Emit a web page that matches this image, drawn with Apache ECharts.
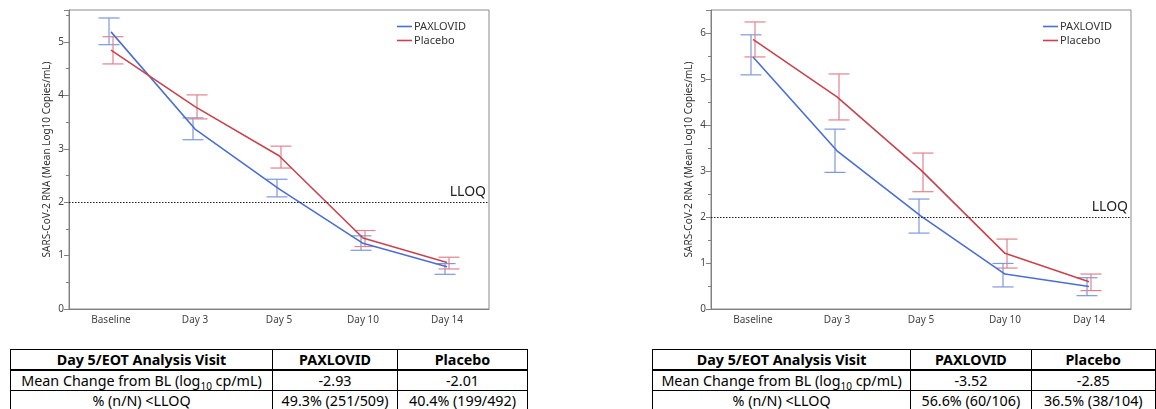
<!DOCTYPE html>
<html>
<head>
<meta charset="utf-8">
<script src="https://cdn.jsdelivr.net/npm/echarts@6/dist/echarts.min.js"></script>
<style>
    body { margin: 0; background: #fff; overflow: hidden; width: 1156px; height: 409px; position: relative; }
    #chart { position: absolute; left: 0; top: 0; width: 1156px; height: 340px; }
    table.visit { position: absolute; top: 349px; border-collapse: collapse; font-family: "Noto Sans", sans-serif; font-size: 14.3px; color: #000; table-layout: fixed; }
    table.visit td { border: 1px solid #000; text-align: center; padding: 0; height: 19px; line-height: 18px; white-space: nowrap; overflow: hidden; }
    table.visit tr.head td { font-weight: bold; border-bottom: 2px solid #000; }
    table.visit sub { font-size: 10px; line-height: 0; }
</style>
</head>
<body>
<div id="chart"></div>
<div id="tables"></div>
<script>
var days = ['Baseline', 'Day 3', 'Day 5', 'Day 10', 'Day 14'];

// left panel
var paxMeanA = [5.19, 3.37, 2.25, 1.23, 0.79];
var paxLowA = [4.95, 3.17, 2.10, 1.10, 0.65];
var paxHighA = [5.45, 3.58, 2.43, 1.37, 0.85];
var plaMeanA = [4.85, 3.79, 2.87, 1.33, 0.87];
var plaLowA = [4.59, 3.56, 2.64, 1.17, 0.75];
var plaHighA = [5.10, 4.01, 3.05, 1.47, 0.97];

// right panel
var paxMeanB = [5.48, 3.44, 2.02, 0.76, 0.49];
var paxLowB = [5.09, 2.97, 1.65, 0.48, 0.29];
var paxHighB = [5.96, 3.91, 2.39, 0.99, 0.68];
var plaMeanB = [5.86, 4.61, 3.02, 1.21, 0.59];
var plaLowB = [5.48, 4.11, 2.55, 0.89, 0.40];
var plaHighB = [6.24, 5.11, 3.39, 1.52, 0.76];

var yMaxA = 5.6;
var yMaxB = 6.5;
var lloq = 2;

var tableHead = ['Day 5/EOT Analysis Visit', 'PAXLOVID', 'Placebo'];
var rowLabels = ['Mean Change from BL (log<sub>10</sub> cp/mL)', '% (n/N) &lt;LLOQ'];
var tableA = [['-2.93', '-2.01'], ['49.3% (251/509)', '40.4% (199/492)']];
var tableB = [['-3.52', '-2.85'], ['56.6% (60/106)', '36.5% (38/104)']];

var blue = '#4a6fd4';
var red = '#c9434f';
var blueBar = '#7d98dc';
var redBar = '#e0848f';
var font = '"Noto Sans", sans-serif';

function errData(low, high) {
    var out = [];
    for (var i = 0; i < low.length; i++) {
        out.push([i, low[i], high[i]]);
    }
    return out;
}

// bars get their own names so the legend picks up the lines
function errorBars(name, idx, low, high, color, dx) {
    return {
        type: 'custom',
        name: name + ' CI',
        xAxisIndex: idx,
        yAxisIndex: idx,
        z: 1,
        silent: true,
        itemStyle: { color: color },
        data: errData(low, high),
        renderItem: function (params, api) {
            var lo = api.coord([api.value(0), api.value(1)]);
            var hi = api.coord([api.value(0), api.value(2)]);
            var cx = lo[0] + dx;
            var w = 10.5;
            var st = { stroke: color, lineWidth: 1.2 };
            return {
                type: 'group',
                children: [
                    { type: 'line', shape: { x1: cx, y1: lo[1], x2: cx, y2: hi[1] }, style: st },
                    { type: 'line', shape: { x1: cx - w, y1: lo[1], x2: cx + w, y2: lo[1] }, style: st },
                    { type: 'line', shape: { x1: cx - w, y1: hi[1], x2: cx + w, y2: hi[1] }, style: st }
                ]
            };
        }
    };
}

function meanLine(name, idx, values, color, withLloq) {
    var s = {
        type: 'line',
        name: name,
        xAxisIndex: idx,
        yAxisIndex: idx,
        z: 3,
        data: values,
        symbol: 'none',
        lineStyle: { color: color, width: 1.6 },
        itemStyle: { color: color }
    };
    if (withLloq) {
        s.markLine = {
            silent: true,
            symbol: 'none',
            lineStyle: { color: '#222', type: [1.5, 1.5], width: 1 },
            label: {
                position: 'insideEndTop',
                formatter: 'LLOQ',
                color: '#222',
                fontSize: 14,
                fontFamily: font,
                distance: [3, 3]
            },
            data: [{ yAxis: lloq }]
        };
    }
    return s;
}

function xAxis(idx) {
    return {
        type: 'category',
        gridIndex: idx,
        data: days,
        boundaryGap: true,
        axisLine: { lineStyle: { color: '#808080', width: 1 } },
        axisTick: { alignWithLabel: true, length: 4, lineStyle: { color: '#808080' } },
        axisLabel: { color: '#444', fontSize: 10, fontFamily: font, margin: 6 }
    };
}

function yAxis(idx, max) {
    return {
        type: 'value',
        gridIndex: idx,
        min: 0,
        max: max,
        interval: 1,
        name: 'SARS-CoV-2 RNA (Mean Log10 Copies/mL)',
        nameLocation: 'middle',
        nameRotate: 90,
        nameGap: 17,
        nameTextStyle: { color: '#333', fontSize: 10, fontFamily: font },
        splitLine: { show: false },
        axisLine: { show: true, lineStyle: { color: '#808080', width: 1 } },
        axisTick: { show: true, length: 5, lineStyle: { color: '#808080' } },
        minorTick: { show: true, splitNumber: 2, length: 3, lineStyle: { color: '#808080' } },
        axisLabel: { color: '#444', fontSize: 10, fontFamily: font, margin: 5, showMaxLabel: false }
    };
}

function legend(left) {
    return {
        left: left,
        top: 16,
        orient: 'vertical',
        data: ['PAXLOVID', 'Placebo'],
        icon: 'rect',
        itemWidth: 15,
        itemHeight: 1.6,
        itemGap: 3,
        selectedMode: false,
        textStyle: { color: '#333', fontSize: 11, fontFamily: font, padding: [0, 0, 0, -3] }
    };
}

var chart = echarts.init(document.getElementById('chart'), null, { renderer: 'canvas' });

chart.setOption({
    animation: false,
    grid: [
        { left: 69, top: 10, width: 420, height: 299, show: true, borderColor: '#8a8a8a', borderWidth: 1 },
        { left: 711, top: 10, width: 420, height: 299, show: true, borderColor: '#8a8a8a', borderWidth: 1 }
    ],
    legend: [legend(392), legend(1038)],
    xAxis: [xAxis(0), xAxis(1)],
    yAxis: [yAxis(0, yMaxA), yAxis(1, yMaxB)],
    series: [
        errorBars('PAXLOVID', 0, paxLowA, paxHighA, blueBar, -2),
        errorBars('Placebo', 0, plaLowA, plaHighA, redBar, 2),
        meanLine('PAXLOVID', 0, paxMeanA, blue, true),
        meanLine('Placebo', 0, plaMeanA, red, false),
        errorBars('PAXLOVID', 1, paxLowB, paxHighB, blueBar, -2),
        errorBars('Placebo', 1, plaLowB, plaHighB, redBar, 2),
        meanLine('PAXLOVID', 1, paxMeanB, blue, true),
        meanLine('Placebo', 1, plaMeanB, red, false)
    ]
});

function buildTable(left, rows) {
    var html = '<table class="visit" style="left:' + left + 'px">';
    html += '<colgroup><col style="width:262px"><col style="width:125px"><col style="width:130px"></colgroup>';
    html += '<tr class="head"><td>' + tableHead.join('</td><td>') + '</td></tr>';
    for (var i = 0; i < rows.length; i++) {
        html += '<tr><td>' + rowLabels[i] + '</td><td>' + rows[i][0] + '</td><td>' + rows[i][1] + '</td></tr>';
    }
    return html + '</table>';
}

document.getElementById('tables').innerHTML = buildTable(10, tableA) + buildTable(652, tableB);
</script>
</body>
</html>
